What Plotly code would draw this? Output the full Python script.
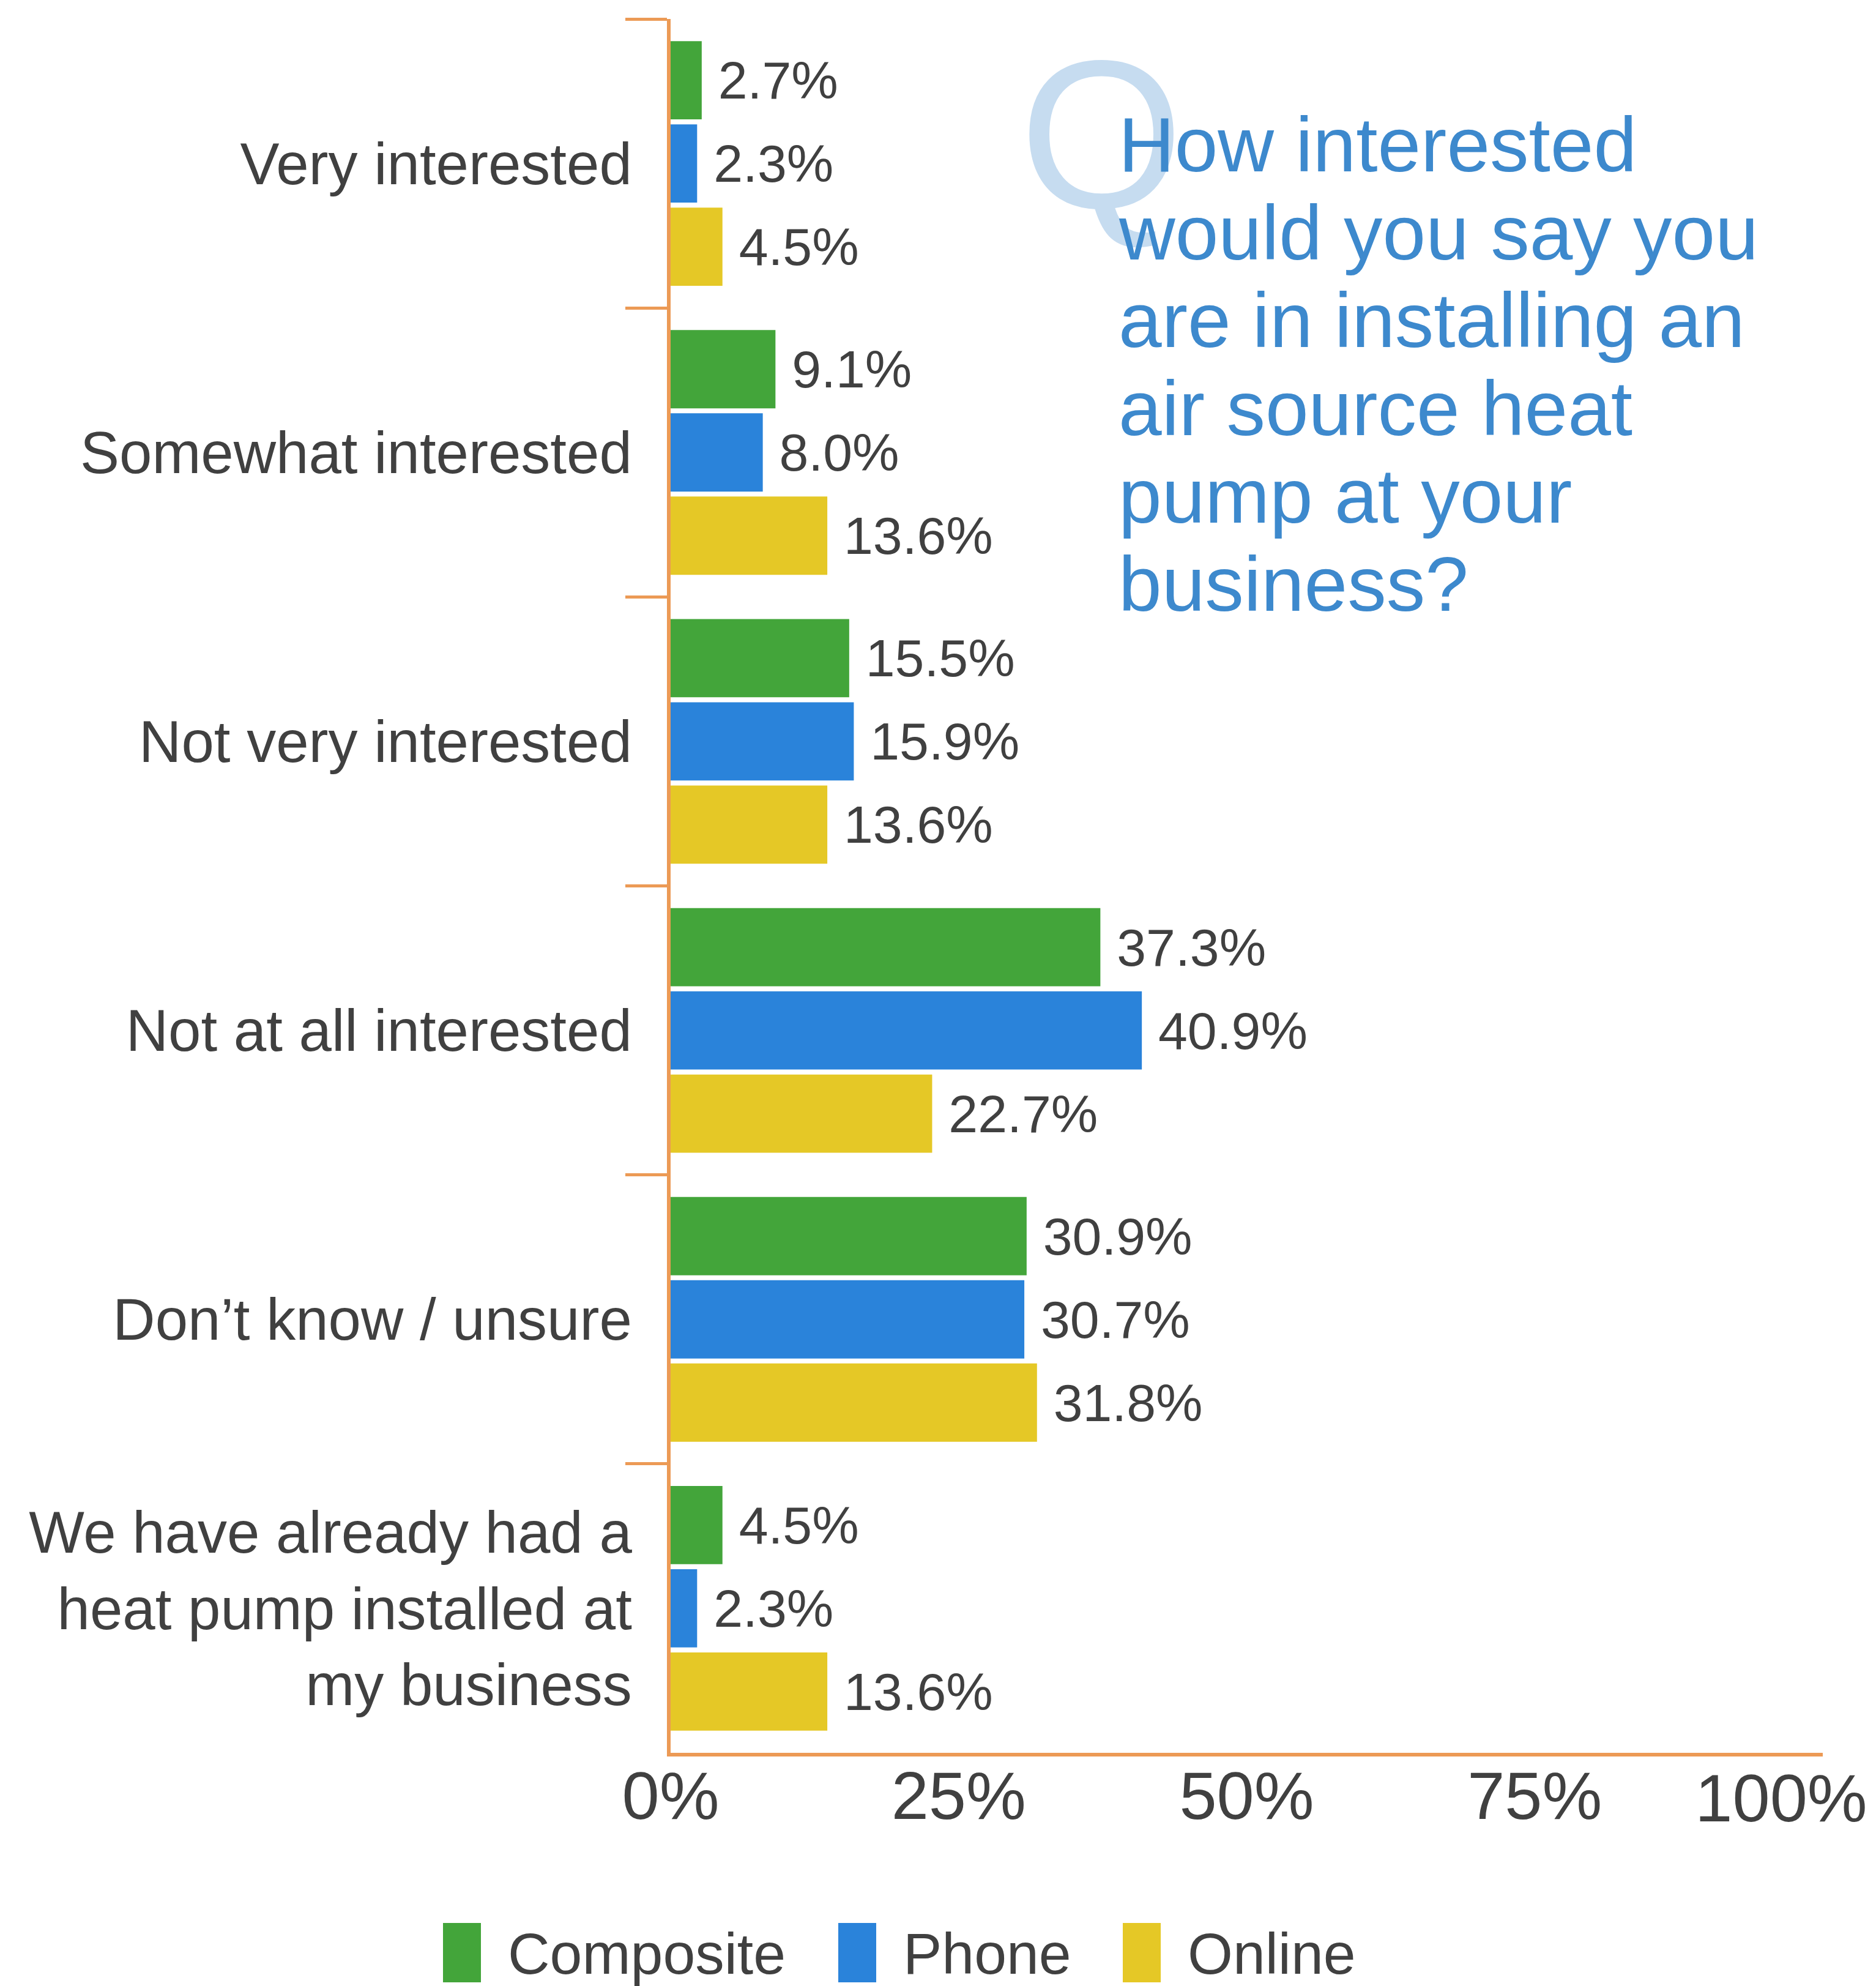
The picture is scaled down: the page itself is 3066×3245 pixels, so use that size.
import plotly.graph_objects as go

# ---- data -------------------------------------------------------------
categories = [
    "Very interested",
    "Somewhat interested",
    "Not very interested",
    "Not at all interested",
    "Don\u2019t know / unsure",
    "We have already had a<br>heat pump installed at<br>my business",
]
series_names = ["Composite", "Phone", "Online"]
composite = [2.7, 9.1, 15.5, 37.3, 30.9, 4.5]
phone = [2.3, 8.0, 15.9, 40.9, 30.7, 2.3]
online = [4.5, 13.6, 13.6, 22.7, 31.8, 13.6]
series_values = [composite, phone, online]

x_tick_values = [0, 25, 50, 75, 100]
x_tick_labels = ["0%", "25%", "50%", "75%", "100%"]

question_lines = [
    "How interested",
    "would you say you",
    "are in installing an",
    "air source heat",
    "pump at your",
    "business?",
]

# ---- styling ----------------------------------------------------------
series_colors = ["#43A53A", "#2A83DA", "#E5C826"]
AXIS_ORANGE = "#EC9A55"
TEXT_GREY = "#404040"
QUESTION_BLUE = "#3D89CD"
Q_BLUE = "#C6DCF0"
FONT = "Liberation Sans, Arial, sans-serif"

W, H = 3066, 3245
PLOT_L, PLOT_R, PLOT_T, PLOT_B = 1096, 2979, 31, 2864


def paper_x(px):
    return (px - PLOT_L) / (PLOT_R - PLOT_L)


def paper_y(py):
    return (PLOT_B - py) / (PLOT_B - PLOT_T)


fig = go.Figure()

for name, vals, color in zip(series_names, series_values, series_colors):
    fig.add_trace(
        go.Bar(
            name=name,
            orientation="h",
            y=categories,
            x=vals,
            marker=dict(color=color, line=dict(width=0)),
            texttemplate="\u00a0%{x:.1f}%",
            textposition="outside",
            constraintext="none",
            cliponaxis=False,
            textfont=dict(size=86, color=TEXT_GREY, family=FONT),
            hoverinfo="skip",
        )
    )

# empty trace so the secondary x axis (carrying the 100% label) is rendered
fig.add_trace(
    go.Scatter(x=[], y=[], xaxis="x2", yaxis="y", showlegend=False,
               hoverinfo="skip")
)

annotations = []
shapes = []

# big faint "Q" behind the question
annotations.append(
    dict(
        text="Q",
        x=paper_x(1800), y=paper_y(219),
        xref="paper", yref="paper",
        xanchor="center", yanchor="middle",
        showarrow=False,
        font=dict(size=345, color=Q_BLUE, family=FONT),
    )
)

# question text, one annotation per line for tight leading
first_line_y, line_step = 236, 143.6
for i, line in enumerate(question_lines):
    annotations.append(
        dict(
            text=line,
            x=paper_x(1826), y=paper_y(first_line_y + i * line_step),
            xref="paper", yref="paper",
            xanchor="left", yanchor="middle",
            showarrow=False,
            font=dict(size=127, color=QUESTION_BLUE, family=FONT),
        )
    )

# legend drawn below the axis with large swatches
legend_swatch_x = [724, 1370, 1835]
swatch_w, swatch_top, swatch_bot = 62, 3142, 3239
for name, color, sx in zip(series_names, series_colors, legend_swatch_x):
    shapes.append(
        dict(
            type="rect", xref="paper", yref="paper",
            x0=paper_x(sx), x1=paper_x(sx + swatch_w),
            y0=paper_y(swatch_bot), y1=paper_y(swatch_top),
            fillcolor=color, line=dict(width=0),
        )
    )
    annotations.append(
        dict(
            text=name,
            x=paper_x(sx + swatch_w + 42), y=paper_y(3192),
            xref="paper", yref="paper",
            xanchor="left", yanchor="middle",
            showarrow=False,
            font=dict(size=95, color=TEXT_GREY, family=FONT),
        )
    )

x_tick_font = dict(size=110, color=TEXT_GREY, family=FONT)

fig.update_layout(
    width=W,
    height=H,
    margin=dict(l=PLOT_L, r=W - PLOT_R, t=PLOT_T, b=H - PLOT_B, pad=0),
    paper_bgcolor="white",
    plot_bgcolor="white",
    font=dict(family=FONT, color=TEXT_GREY),
    barmode="group",
    bargap=0.136,
    bargroupgap=0.06,
    showlegend=False,
    annotations=annotations,
    shapes=shapes,
    xaxis=dict(
        range=[0, 100],
        tickvals=x_tick_values[:-1],
        ticktext=x_tick_labels[:-1],
        ticks="",
        ticklabelstandoff=-30,
        showgrid=False,
        zeroline=False,
        showline=True,
        linecolor=AXIS_ORANGE,
        linewidth=6,
        tickfont=x_tick_font,
        fixedrange=True,
    ),
    # the 100% label sits slightly inside the right edge
    xaxis2=dict(
        overlaying="x",
        anchor="y",
        side="bottom",
        range=[0, 100],
        tickvals=x_tick_values[-1:],
        ticktext=x_tick_labels[-1:],
        ticklabelshift=-68,
        ticklabelstandoff=1,
        ticks="",
        showgrid=False,
        zeroline=False,
        showline=False,
        tickfont=x_tick_font,
        fixedrange=True,
    ),
    yaxis=dict(
        type="category",
        autorange="reversed",
        tickson="boundaries",
        ticks="outside",
        ticklen=68,
        tickwidth=5,
        tickcolor=AXIS_ORANGE,
        ticklabelstandoff=38,
        showline=True,
        linecolor=AXIS_ORANGE,
        linewidth=6,
        showgrid=False,
        zeroline=False,
        tickfont=dict(size=96, color=TEXT_GREY, family=FONT),
        fixedrange=True,
    ),
)

fig.write_html("out.html")
